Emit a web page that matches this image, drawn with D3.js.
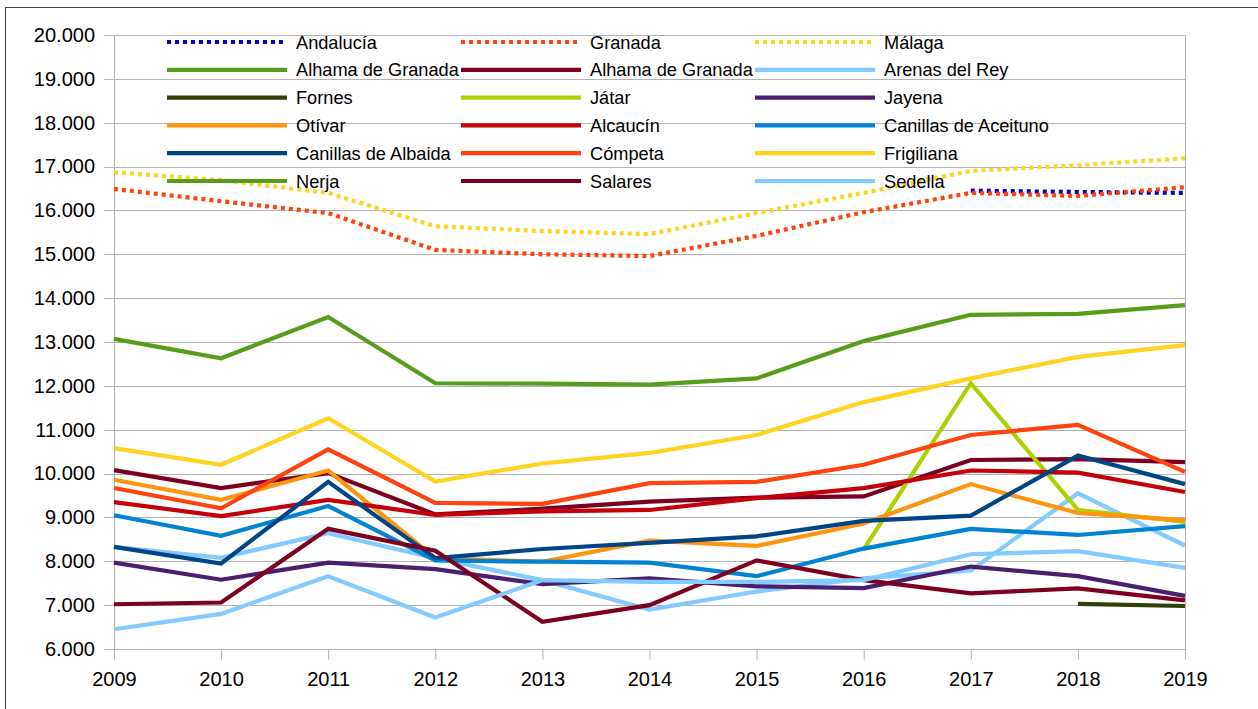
<!DOCTYPE html>
<html>
<head>
<meta charset="utf-8">
<script src="https://cdn.jsdelivr.net/npm/d3@7.9.0/dist/d3.min.js"></script>
<style>
  body { margin: 0; background: #fff; }
  svg { display: block; font-family: "Liberation Sans", Arial, sans-serif; }
</style>
</head>
<body>
<svg id="chart" width="1258" height="709"></svg>
<script>
const years = [2009, 2010, 2011, 2012, 2013, 2014, 2015, 2016, 2017, 2018, 2019];
const yTicks = [6000, 7000, 8000, 9000, 10000, 11000, 12000, 13000, 14000, 15000, 16000, 17000, 18000, 19000, 20000];

// values per municipality, one per year (null = no data)
const andalucia = [null, null, null, null, null, null, null, null, 16450, 16420, 16400];
const granada = [16490, 16210, 15940, 15100, 15000, 14960, 15420, 15960, 16400, 16330, 16530];
const malaga = [16870, 16690, 16400, 15640, 15530, 15460, 15940, 16400, 16900, 17030, 17190];
const alhamaGreen = [null, null, null, null, null, null, null, null, null, null, null];
const alhamaDark = [10080, 9670, 10010, 9070, 9200, 9360, 9450, 9480, 10310, 10330, 10260];
const arenasDelRey = [8330, 8080, 8640, 8070, 7570, 6900, 7310, 7610, 7790, 9550, 8360];
const fornes = [null, null, null, null, null, null, null, null, null, 7030, 6980];
const jatar = [null, null, null, null, null, null, null, 8270, 12060, 9170, 8900];
const jayena = [7970, 7580, 7970, 7820, 7480, 7610, 7430, 7390, 7880, 7660, 7210];
const otivar = [9860, 9400, 10070, 8070, 7990, 8470, 8350, 8860, 9760, 9100, 8940];
const alcaucin = [9350, 9030, 9400, 9060, 9140, 9170, 9440, 9670, 10070, 10020, 9580];
const canAceituno = [9050, 8580, 9260, 8020, 7990, 7970, 7660, 8290, 8740, 8600, 8800];
const canAlbaida = [8330, 7950, 9810, 8070, 8280, 8420, 8570, 8920, 9040, 10410, 9760];
const competa = [9670, 9210, 10550, 9330, 9310, 9780, 9810, 10200, 10880, 11110, 10040];
const frigiliana = [10580, 10200, 11260, 9820, 10230, 10470, 10880, 11630, 12170, 12660, 12930];
const nerja = [13070, 12630, 13570, 12060, 12050, 12030, 12170, 13020, 13620, 13640, 13840];
const salares = [7020, 7060, 8740, 8240, 6620, 7000, 8020, 7570, 7270, 7380, 7110];
const sedella = [6450, 6800, 7660, 6720, 7570, 7530, 7530, 7570, 8160, 8230, 7850];

const series = [
  { name: "Andalucía", values: andalucia, color: "#0000cc", dotted: true },
  { name: "Granada", values: granada, color: "#ff420e", dotted: true },
  { name: "Málaga", values: malaga, color: "#ffd320", dotted: true },
  { name: "Alhama de Granada", values: alhamaGreen, color: "#579d1c" },
  { name: "Alhama de Granada", values: alhamaDark, color: "#7e0021" },
  { name: "Arenas del Rey", values: arenasDelRey, color: "#83caff" },
  { name: "Fornes", values: fornes, color: "#314004" },
  { name: "Játar", values: jatar, color: "#aecf00" },
  { name: "Jayena", values: jayena, color: "#4b1f6f" },
  { name: "Otívar", values: otivar, color: "#ff950e" },
  { name: "Alcaucín", values: alcaucin, color: "#c5000b" },
  { name: "Canillas de Aceituno", values: canAceituno, color: "#0084d1" },
  { name: "Canillas de Albaida", values: canAlbaida, color: "#004586" },
  { name: "Cómpeta", values: competa, color: "#ff420e" },
  { name: "Frigiliana", values: frigiliana, color: "#ffd320" },
  { name: "Nerja", values: nerja, color: "#579d1c" },
  { name: "Salares", values: salares, color: "#7e0021" },
  { name: "Sedella", values: sedella, color: "#83caff" },
];

const svg = d3.select("#chart");
const plotLeft = 114, plotRight = 1185, plotTop = 35, plotBottom = 649;

const x = d3.scaleLinear().domain([2009, 2019]).range([plotLeft, plotRight]);
const y = d3.scaleLinear().domain([6000, 20000]).range([plotBottom, plotTop]);

const es = d3.formatLocale({ decimal: ",", thousands: ".", grouping: [3], currency: ["", "€"] });
const fmt = es.format(",d");

// outer frame
svg.append("rect")
  .attr("x", 5.5).attr("y", 7.5)
  .attr("width", 1300).attr("height", 800)
  .attr("fill", "none").attr("stroke", "#444");

// grid
svg.append("g")
  .selectAll("line")
  .data(yTicks)
  .join("line")
  .attr("x1", plotLeft - 10).attr("x2", plotRight)
  .attr("y1", (d) => Math.round(y(d)) + 0.5).attr("y2", (d) => Math.round(y(d)) + 0.5)
  .attr("stroke", "#b3b3b3");

svg.append("line")
  .attr("x1", plotLeft + 0.5).attr("x2", plotLeft + 0.5)
  .attr("y1", plotTop).attr("y2", plotBottom + 10)
  .attr("stroke", "#b3b3b3");
svg.append("line")
  .attr("x1", plotRight + 0.5).attr("x2", plotRight + 0.5)
  .attr("y1", plotTop).attr("y2", plotBottom + 10)
  .attr("stroke", "#b3b3b3");

// y labels
const yAxis = svg.append("g")
  .attr("transform", `translate(${plotLeft - 10},0)`)
  .call(d3.axisLeft(y).tickValues(yTicks).tickFormat(fmt).tickSize(0).tickPadding(9));
yAxis.select(".domain").remove();
yAxis.selectAll("text").attr("font-size", 20).attr("fill", "#000")
  .attr("font-family", "Liberation Sans, Arial, sans-serif");

// x axis
const xAxis = svg.append("g")
  .attr("transform", `translate(0,${plotBottom + 0.5})`)
  .call(d3.axisBottom(x).tickValues(years).tickFormat(d3.format("d")).tickSize(10).tickPadding(12));
xAxis.select(".domain").attr("stroke", "#b3b3b3").attr("d", `M${plotLeft},0H${plotRight}`);
xAxis.selectAll(".tick line").attr("stroke", "#b3b3b3");
xAxis.selectAll("text").attr("font-size", 20).attr("fill", "#000")
  .attr("font-family", "Liberation Sans, Arial, sans-serif");

// lines
const line = d3.line()
  .defined((d) => d != null)
  .x((d, i) => x(years[i]))
  .y((d) => y(d));

svg.append("g")
  .selectAll("path")
  .data(series)
  .join("path")
  .attr("d", (s) => line(s.values))
  .attr("fill", "none")
  .attr("stroke", (s) => s.color)
  .attr("stroke-width", 4.2)
  .attr("stroke-dasharray", (s) => (s.dotted ? "4,4" : null));

// legend
const legend = svg.append("g");
series.forEach((s, i) => {
  const col = i % 3, row = Math.floor(i / 3);
  const lx = 167 + col * 294, ly = 42 + row * 27.8;
  legend.append("line")
    .attr("x1", lx).attr("x2", lx + 120)
    .attr("y1", ly).attr("y2", ly)
    .attr("stroke", s.color)
    .attr("stroke-width", 4.2)
    .attr("stroke-dasharray", s.dotted ? "4,4" : null);
  legend.append("text")
    .attr("x", lx + 129).attr("y", ly)
    .attr("dy", "0.36em")
    .attr("font-size", 18.2)
    .attr("fill", "#000")
    .text(s.name);
});
</script>
</body>
</html>
